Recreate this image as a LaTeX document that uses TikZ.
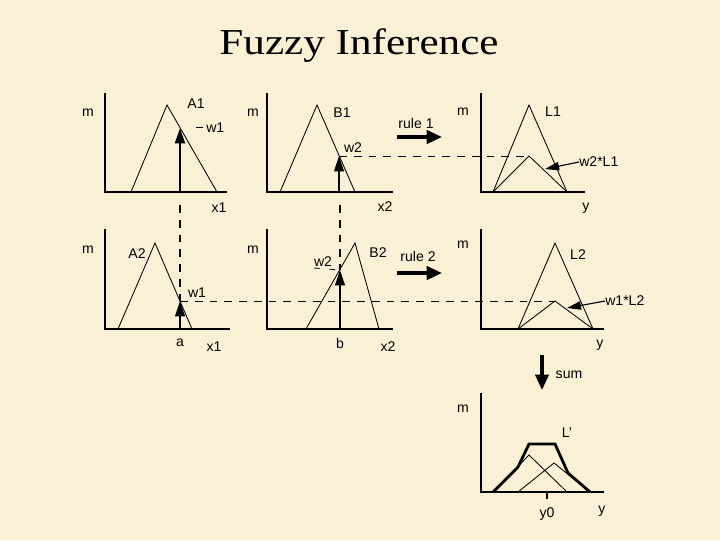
\documentclass[tikz,border=0pt]{standalone}
\usepackage{fontspec}
\setmainfont{Liberation Serif}
\setsansfont{Liberation Sans}
\usetikzlibrary{arrows.meta}
\definecolor{parchment}{RGB}{250,240,214}
\begin{document}
\begin{tikzpicture}[x=0.025cm, y=-0.025cm,
  every node/.style={font=\sffamily\fontsize{10}{11}\selectfont, inner sep=0pt},
  axis/.style={line width=0.8pt},
  mf/.style={line width=0.6pt},
  level/.style={line width=0.6pt, dash pattern=on 5.5pt off 5pt},
  probe/.style={line width=1.5pt, dash pattern=on 5.5pt off 5pt},
  input/.style={line width=1.2pt, -{Triangle[length=11pt,width=7pt]}},
  fire/.style={line width=2.6pt, -{Triangle[length=11pt,width=9.5pt]}},
  point/.style={line width=0.8pt, -{Triangle[length=10pt,width=6pt]}}]
\useasboundingbox (0,0) rectangle (720,540);
\fill[parchment] (0,0) rectangle (720,540);
\node[font=\rmfamily\fontsize{26}{30}\selectfont, xscale=1.18] (title) at (359,46) {Fuzzy Inference};
% row 1
\draw[axis] (105,93) -- (105,192) -- (227,192);
\draw[mf] (131,192) -- (167,105) -- (217,192);
\node (mA1) at (88,113) {m};
\node (A1) at (196,104) {A1};
\node (x1a) at (219,208) {x1};
\coordinate (a1b) at (180,192);
\coordinate (a1t) at (180,128);
\draw[input, line width=1.8pt] (a1b) -- (a1t);
\node[anchor=west] (w1a) at (206,128) {w1};
\draw[mf] (196,127) -- (203,127);
\draw[axis] (267,93) -- (267,192) -- (393,192);
\draw[mf] (280,192) -- (317,105) -- (355,192);
\node (mB1) at (253,113) {m};
\node (B1) at (342,113) {B1};
\node (x2a) at (385,207) {x2};
\coordinate (b1b) at (339,192);
\coordinate (b1t) at (339,156);
\draw[input] (b1b) -- (b1t);
\node (w2a) at (353,148) {w2};
\node (rule1) at (416,123) {rule 1};
\coordinate (r1s) at (397,137);
\coordinate (r1e) at (442,137);
\draw[fire] (r1s) -- (r1e);
\draw[axis] (481,93) -- (481,192) -- (585,192);
\draw[mf] (493,192) -- (529,105) -- (567,192);
\coordinate (l1t) at (529,156);
\draw[mf] (493,192) -- (l1t) -- (567,192);
\node (mL1) at (463,112) {m};
\node (L1) at (553,112) {L1};
\node (y1) at (586,208) {y};
\node[anchor=west] (w2L1) at (579,162) {w2*L1};
\coordinate (l1p) at (545,169);
\draw[point] (w2L1.west) -- (l1p);
\draw[level] (b1t) -- (l1t);
% row 2
\draw[axis] (105,229) -- (105,329) -- (230,329);
\draw[mf] (118,329) -- (155,243) -- (192,329);
\node (mA2) at (88,250) {m};
\node (A2) at (137,254) {A2};
\node (a) at (180,343) {a};
\node (x1b) at (214,347) {x1};
\coordinate (a1f) at (180,205);
\coordinate (a2b) at (180,329);
\coordinate (a2t) at (180,301);
\draw[input] (a2b) -- (a2t);
\draw[probe] (a1f) -- (a2t);
\node (w1b) at (197,293) {w1};
\draw[axis] (267,229) -- (267,329) -- (393,329);
\draw[mf] (306,329) -- (355,243) -- (379,329);
\node (mB2) at (253,250) {m};
\node (B2) at (378,253) {B2};
\node (b) at (340,343) {b};
\node (x2b) at (388,347) {x2};
\coordinate (b1f) at (340,205);
\coordinate (b2b) at (340,329);
\coordinate (b2t) at (340,270);
\draw[input] (b2b) -- (b2t);
\draw[level, line width=0.9pt] (b1f) -- (b2t);
\node (w2b) at (323,262) {w2};
\draw[level, dash pattern=on 4pt off 7pt] (314,268) -- (b2t);
\node (rule2) at (418,256) {rule 2};
\coordinate (r2s) at (397,273);
\coordinate (r2e) at (442,273);
\draw[fire] (r2s) -- (r2e);
\draw[axis] (481,229) -- (481,329) -- (604,329);
\draw[mf] (518,329) -- (555,243) -- (593,329);
\coordinate (l2t) at (555,301);
\draw[mf] (518,329) -- (l2t) -- (593,329);
\node (mL2) at (463,245) {m};
\node (L2) at (578,255) {L2};
\node (y2) at (600,345) {y};
\node[anchor=west] (w1L2) at (605,301) {w1*L2};
\coordinate (l2p) at (567,308);
\draw[point] (w1L2.west) -- (l2p);
\draw[level] (a2t) -- (l2t);
% sum
\coordinate (ss) at (542,355);
\coordinate (se) at (542,390);
\draw[fire, line width=2.2pt] (ss) -- (se);
\node (sum) at (569,375) {sum};
\draw[axis] (481,393) -- (481,492) -- (604,492);
\draw[mf] (493,492) -- (529,455) -- (567,492);
\draw[mf] (518,492) -- (554,463) -- (590,492);
\draw[line width=2pt] (493,492) -- (518,467) -- (529,444) -- (555,444) -- (568,473) -- (590,492);
\draw[axis] (547,492) -- (547,499);
\node (mL) at (463,409) {m};
\node (Lp) at (567,433) {L'};
\node (y0) at (547,514) {y0};
\node (y3) at (602,511) {y};
\end{tikzpicture}
\end{document}
